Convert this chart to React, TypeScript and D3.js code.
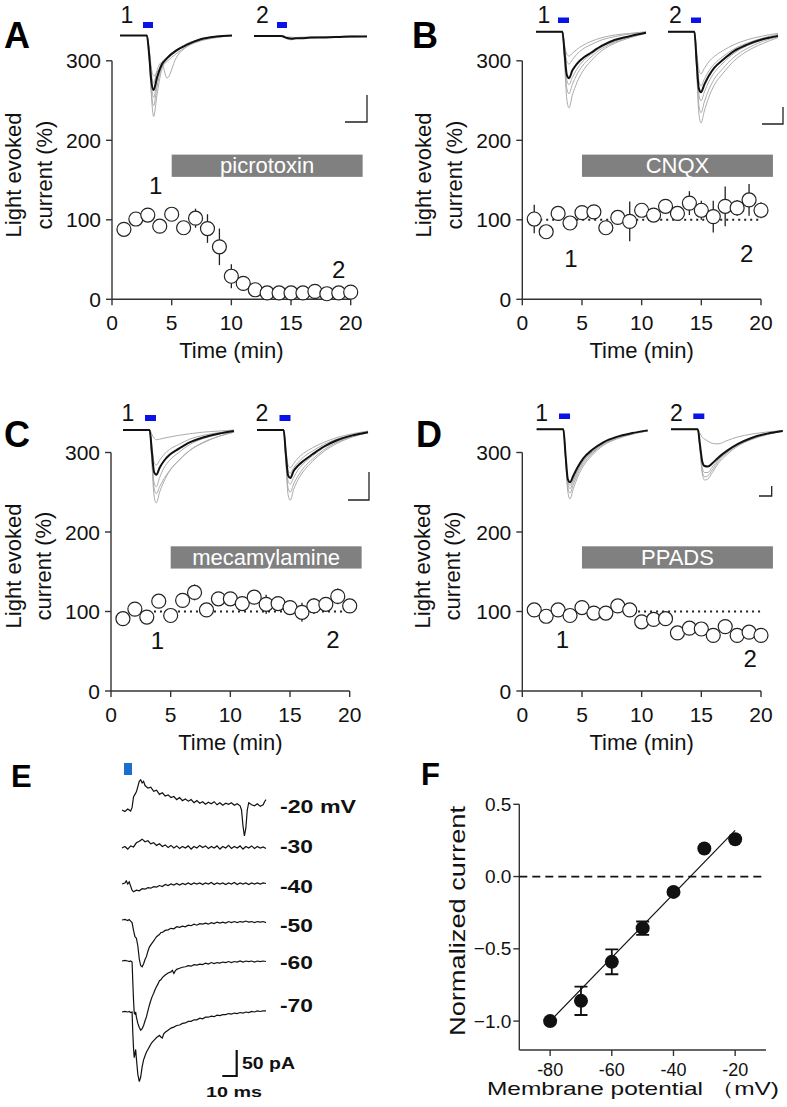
import React from "react";
import * as d3 from "d3";

const FONT = "'Liberation Sans', Arial, Helvetica, sans-serif";
const AXIS = "#333";

// ---------------- time-course data ----------------
const minutes = [1, 2, 3, 4, 5, 6, 7, 8, 9, 10, 11, 12, 13, 14, 15, 16, 17, 18, 19, 20];
const picroMean = [88, 101, 106, 92, 107, 90, 102, 89, 66, 29, 20, 12, 8, 8, 8, 8, 10, 7, 8, 9];
const picroErr = [3, 4, 5, 6, 3, 3, 12, 18, 23, 15, 5, 3, 2, 2, 2, 2, 2, 2, 2, 2];
const cnqxMean = [101, 85, 108, 96, 109, 110, 90, 103, 98, 112, 106, 117, 108, 121, 112, 104, 117, 115, 125, 112];
const cnqxErr = [18, 3, 5, 3, 4, 8, 3, 8, 25, 6, 4, 7, 5, 15, 12, 20, 25, 10, 20, 10];
const mecaMean = [91, 103, 93, 113, 95, 114, 124, 102, 116, 116, 110, 118, 109, 110, 105, 99, 107, 109, 119, 107];
const mecaErr = [3, 8, 3, 8, 3, 3, 10, 3, 3, 3, 5, 8, 12, 3, 3, 12, 10, 3, 10, 8];
const ppadsMean = [102, 94, 102, 95, 105, 98, 98, 107, 102, 87, 90, 91, 73, 79, 78, 70, 81, 70, 74, 70];
const ppadsErr = [2, 2, 2, 2, 2, 2, 2, 2, 2, 2, 2, 2, 2, 2, 2, 2, 2, 2, 2, 2];

const tcYTicks = [0, 100, 200, 300];
const tcXTicks = [0, 5, 10, 15, 20];
const drugNames = ["picrotoxin", "CNQX", "mecamylamine", "PPADS"];
const drugSpan = [5, 21];
const drugLevel = [154, 182];
// dotted 100% reference line [from, to] in minutes (null = none)
const refLines: (number[] | null)[] = [null, [1.5, 20], [3.6, 19.8], [9.7, 20]];
// positions of "1" / "2" annotations (min, %)
const markOne = [[3.66, 133], [4.08, 41], [3.9, 53], [3.37, 54]];
const markTwo = [[19.0, 27], [18.8, 47], [18.6, 54], [19.1, 30]];

// ---------------- inset traces (ms, pA) ----------------
const insetT = [0, 10, 20, 24, 26, 28, 30, 33, 37, 42, 50, 60, 72, 86, 100];
const a1Black = [0, 0, 0, 0, -35, -85, -101, -78, -55, -42, -28, -17, -7, -2, 0];
const a1Gray = [
  [0, 0, 0, 0, -35, -110, -150, -110, -65, -42, -28, -15, -7, -2, 0],
  [0, 0, 0, 0, -40, -105, -130, -95, -60, -44, -30, -17, -8, -3, 0],
  [0, 0, 0, 0, -30, -90, -115, -85, -52, -40, -27, -15, -7, -2, 0],
  [0, 0, 0, 0, -25, -70, -88, -65, -50, -79, -42, -20, -9, -3, 0],
  [0, 0, 0, 0, -25, -60, -75, -68, -58, -48, -34, -20, -10, -4, 0],
];
const a2Black = [0, 0, 0, 0, -1, -3, -4, -5, -4, -4, -3, -3, -2, -1, -1];
const a2Gray = [
  [1, -1, 1, 0, -2, -4, -6, -7, -5, -3, -4, -2, -1, -2, 0],
  [-1, 1, 0, 1, 0, -1, -2, -2, -3, -2, -2, -1, -1, 0, -1],
];
const b1Black = [0, 0, 0, 0, -40, -80, -86, -72, -60, -50, -39, -26, -15, -8, -2];
const b1Gray = [
  [0, 0, 0, 0, -60, -125, -141, -118, -95, -75, -54, -35, -21, -11, -3],
  [0, 0, 0, 0, -50, -105, -115, -98, -80, -64, -47, -31, -19, -9, -2],
  [0, 0, 0, 0, -45, -90, -98, -85, -70, -56, -42, -28, -17, -8, -2],
  [0, 0, 0, 0, -30, -55, -60, -52, -42, -33, -24, -15, -9, -4, -1],
  [0, 0, 0, 0, -25, -42, -45, -40, -33, -26, -18, -11, -6, -3, 0],
];
const b2Black = [0, 0, 0, 0, -55, -105, -112, -98, -82, -67, -52, -36, -24, -14, -8];
const b2Gray = [
  [0, 0, 0, 0, -70, -150, -169, -147, -122, -99, -77, -54, -36, -22, -11],
  [0, 0, 0, 0, -65, -135, -150, -130, -108, -88, -68, -47, -31, -18, -9],
  [0, 0, 0, 0, -55, -115, -128, -112, -93, -76, -58, -40, -26, -15, -7],
  [0, 0, 0, 0, -45, -90, -100, -88, -73, -60, -46, -32, -21, -12, -5],
  [0, 0, 0, 0, -35, -70, -78, -68, -56, -46, -35, -24, -15, -8, -3],
];
const c1Black = [0, 0, 0, 0, -40, -78, -83, -70, -57, -46, -35, -23, -14, -7, -2];
const c1Gray = [
  [0, 0, 0, 0, -60, -122, -135, -115, -95, -76, -57, -38, -23, -12, -4],
  [0, 0, 0, 0, -55, -108, -118, -105, -90, -75, -57, -38, -24, -12, -4],
  [0, 0, 0, 0, -50, -98, -105, -88, -70, -56, -42, -27, -16, -8, -2],
  [0, 0, 0, 0, -30, -60, -65, -56, -45, -36, -27, -17, -10, -5, -1],
  [0, 0, 0, 0, -8, -15, -18, -17, -15, -13, -10, -7, -4, -2, 0],
];
const c2Black = [0, 0, 0, 0, -45, -84, -89, -76, -66, -57, -45, -31, -19, -10, -4];
const c2Gray = [
  [0, 0, 0, 0, -60, -120, -130, -110, -92, -76, -58, -40, -25, -13, -5],
  [0, 0, 0, 0, -55, -108, -115, -100, -85, -70, -54, -37, -23, -12, -4],
  [0, 0, 0, 0, -48, -95, -100, -88, -74, -62, -48, -33, -21, -11, -4],
  [0, 0, 0, 0, -40, -75, -80, -70, -60, -50, -39, -27, -17, -9, -3],
  [0, 0, 0, 0, -35, -65, -70, -62, -52, -43, -33, -23, -14, -7, -2],
];
const d1Black = [0, 0, 0, 0, -48, -92, -98, -86, -70, -54, -38, -24, -14, -7, -2];
const d1Gray = [
  [0, 0, 0, 0, -55, -115, -129, -110, -88, -68, -48, -30, -18, -9, -3],
  [0, 0, 0, 0, -52, -108, -118, -102, -82, -64, -45, -28, -17, -9, -3],
  [0, 0, 0, 0, -50, -100, -110, -96, -78, -60, -43, -27, -16, -8, -3],
  [0, 0, 0, 0, -48, -95, -104, -92, -75, -58, -42, -26, -16, -8, -3],
];
const d2Black = [0, 0, 0, 0, -30, -60, -68, -69, -63, -53, -40, -27, -16, -8, -3];
const d2Gray = [
  [0, 0, 0, 0, -40, -82, -94, -92, -80, -64, -47, -31, -19, -10, -3],
  [0, 0, 0, 0, -38, -78, -88, -86, -75, -60, -44, -29, -18, -9, -3],
  [0, 0, 0, 0, -35, -72, -80, -80, -70, -57, -42, -28, -17, -9, -3],
  [0, 0, 0, 0, -8, -15, -18, -22, -26, -27, -21, -14, -9, -5, -2],
];

// ---------------- panel E traces (ms, pA) ----------------
const stepLabels = ["-20 mV", "-30", "-40", "-50", "-60", "-70"];
const trace20: number[][] = [[0,0],[2,-3],[4,2],[6,-2],[7,5],[8,25],[9,30],[10,35],[11,45],[12,55],[13,58],[14,52],[15,55],[16,47],[18,42],[20,44],[22,36],[24,38],[26,30],[28,33],[30,27],[32,29],[34,24],[36,26],[38,20],[40,24],[42,18],[44,21],[46,17],[48,20],[50,14],[52,18],[54,13],[56,16],[58,11],[60,15],[62,12],[64,16],[66,10],[68,14],[70,9],[72,13],[74,11],[76,14],[78,9],[80,12],[82,8],[83,0],[84,-30],[85,-50],[86,-35],[87,0],[88,14],[90,10],[92,8],[94,12],[96,7],[98,10],[99,16],[100,20]];
const trace30: number[][] = [[0,0],[2,3],[4,-2],[6,4],[8,2],[10,10],[12,13],[14,17],[16,12],[18,14],[20,8],[22,10],[24,5],[26,8],[28,3],[30,6],[32,1],[34,5],[36,0],[38,4],[40,-1],[42,3],[44,0],[46,4],[48,-2],[50,3],[52,0],[54,5],[56,1],[58,4],[60,-1],[62,3],[64,0],[66,4],[68,-2],[70,3],[72,0],[74,5],[76,-1],[78,3],[80,0],[82,4],[84,-2],[86,3],[88,0],[90,4],[92,-1],[94,3],[96,0],[98,2],[100,-1]];
const trace40: number[][] = [[0,0],[2,2],[3,6],[4,0],[5,4],[6,-4],[7,-12],[8,-15],[10,-12],[12,-13],[14,-9],[16,-10],[18,-7],[20,-8],[22,-5],[24,-6],[26,-3],[28,-5],[30,-1],[32,-3],[34,0],[36,-2],[38,1],[40,-2],[42,1],[44,-1],[46,2],[48,-1],[50,2],[52,0],[54,2],[56,-1],[58,2],[60,0],[62,3],[64,-1],[66,2],[68,0],[70,2],[72,-1],[74,2],[76,0],[78,3],[80,-1],[82,2],[84,0],[86,2],[88,-1],[90,2],[92,0],[94,2],[96,0],[98,2],[100,1]];
const trace50: number[][] = [[0,0],[2,1],[4,-1],[5,1],[6,-2],[7,-5],[8,-20],[9,-32],[10,-35],[11,-50],[12,-75],[13,-88],[14,-90],[15,-84],[16,-76],[17,-70],[18,-60],[19,-52],[20,-48],[21,-44],[22,-40],[23,-36],[24,-32],[25,-30],[26,-28],[27,-24],[28,-24],[30,-20],[32,-19],[34,-16],[36,-17],[38,-13],[40,-14],[42,-12],[44,-13],[46,-10],[48,-11],[50,-8],[52,-10],[54,-7],[56,-8],[58,-6],[60,-8],[62,-5],[64,-7],[66,-4],[68,-6],[70,-4],[72,-6],[74,-3],[76,-5],[78,-3],[80,-5],[82,-3],[84,-4],[86,-2],[88,-4],[90,-3],[92,-5],[94,-3],[96,-4],[98,-3],[100,-5]];
const trace60: number[][] = [[0,0],[2,1],[4,0],[5,-1],[6,0],[7,-2],[7.5,-40],[8,-75],[8.5,-100],[9,-102],[9.5,-98],[10,-108],[11,-120],[12,-128],[13,-133],[14,-130],[15,-124],[16,-115],[17,-107],[18,-96],[19,-85],[20,-76],[21,-68],[22,-62],[23,-55],[24,-49],[25,-44],[26,-38],[27,-36],[28,-32],[30,-27],[32,-23],[34,-21],[35,-18],[36,-24],[37,-19],[38,-16],[40,-14],[42,-12],[44,-11],[46,-9],[48,-10],[50,-7],[52,-8],[54,-6],[56,-7],[58,-4],[60,-6],[62,-3],[64,-5],[66,-3],[68,-4],[70,-2],[72,-3],[74,-1],[76,-3],[78,-1],[80,-2],[82,0],[84,-2],[86,0],[88,-1],[90,0],[92,-2],[94,0],[96,-1],[98,0],[100,-1]];
const trace70: number[][] = [[0,0],[2,1],[4,0],[5,1],[6,-1],[7,0],[7.5,-40],[8,-70],[8.5,-88],[9,-80],[9.5,-72],[10,-90],[11,-120],[12,-134],[13,-125],[14,-105],[15,-92],[16,-84],[17,-77],[18,-72],[19,-67],[20,-62],[21,-58],[22,-55],[23,-52],[24,-49],[25,-47],[26,-45],[27,-48],[28,-50],[29,-42],[30,-39],[32,-35],[34,-31],[36,-29],[38,-26],[40,-25],[42,-22],[44,-21],[46,-18],[48,-18],[50,-15],[52,-15],[54,-12],[56,-13],[58,-10],[60,-10],[62,-8],[64,-9],[66,-6],[68,-7],[70,-5],[72,-5],[74,-3],[76,-4],[78,-2],[80,-3],[82,-1],[84,-2],[86,0],[88,-1],[90,1],[92,0],[94,2],[96,1],[98,2],[100,2]];
const stepTraces = [trace20, trace30, trace40, trace50, trace60, trace70];

// ---------------- panel F (I-V) ----------------
const ivVoltage = [-80, -70, -60, -50, -40, -30, -20];
const ivCurrent = [-1.0, -0.86, -0.59, -0.357, -0.106, 0.194, 0.258];
const ivErr = [0, 0.098, 0.086, 0.046, 0, 0, 0];
const ivFitSlope = 0.022;
const ivFitIntercept = 0.76;
const ivFitRange = [-80, -20];
const ivXTicks = [-80, -60, -40, -20];
const ivYTicks = [0.5, 0.0, -0.5, -1.0];

// ---------------- layout ----------------
const panelLayout = [
  { letter: "A", lx: 4, ly: 48, axisX: 112, zeroY: 299.3, ylab1: 21, ylab2: 52, labCy: 175,
    insets: [
      { x0: 120, x1: 232, base: 35.5, num: "1", nx: 127, ny: 23, blue: [143, 22, 10, 6], black: a1Black, gray: a1Gray },
      { x0: 254, x1: 367, base: 36, num: "2", nx: 262.5, ny: 23, blue: [277, 22, 10, 6], black: a2Black, gray: a2Gray },
    ],
    sb: [367, 122, 22, 27] },
  { letter: "B", lx: 412, ly: 48, axisX: 522.3, zeroY: 299.3, ylab1: 431, ylab2: 462, labCy: 175,
    insets: [
      { x0: 536, x1: 646, base: 31.7, num: "1", nx: 544, ny: 23, blue: [558, 17.5, 11, 5.5], black: b1Black, gray: b1Gray },
      { x0: 668, x1: 778, base: 31.7, num: "2", nx: 675.5, ny: 23, blue: [691, 17.5, 10, 5.5], black: b2Black, gray: b2Gray },
    ],
    sb: [783, 124, 21, 17] },
  { letter: "C", lx: 4, ly: 447, axisX: 111, zeroY: 691, ylab1: 21, ylab2: 51, labCy: 566,
    insets: [
      { x0: 123, x1: 234, base: 430, num: "1", nx: 128, ny: 421, blue: [145, 415, 11, 6], black: c1Black, gray: c1Gray },
      { x0: 257, x1: 368, base: 430, num: "2", nx: 262, ny: 421, blue: [279.5, 415, 11, 6], black: c2Black, gray: c2Gray },
    ],
    sb: [369, 500, 21, 28] },
  { letter: "D", lx: 416, ly: 447, axisX: 522.3, zeroY: 691, ylab1: 430, ylab2: 460, labCy: 566,
    insets: [
      { x0: 536.7, x1: 647.7, base: 429.3, num: "1", nx: 541.7, ny: 421, blue: [559, 413.5, 11, 5.5], black: d1Black, gray: d1Gray },
      { x0: 671, x1: 782.7, base: 429.3, num: "2", nx: 676.3, ny: 421, blue: [693.3, 413.5, 11, 5.5], black: d2Black, gray: d2Gray },
    ],
    sb: [771.7, 496, 12.7, 10] },
];
const seriesMeans = [picroMean, cnqxMean, mecaMean, ppadsMean];
const seriesErrs = [picroErr, cnqxErr, mecaErr, ppadsErr];

function Inset({ ins }: { ins: any }) {
  const x = d3.scaleLinear().domain([0, 100]).range([ins.x0, ins.x1]);
  const y = d3.scaleLinear().domain([0, -100]).range([ins.base, ins.base + 54]);
  const line = d3
    .line<number>()
    .x((_, i) => x(insetT[i]))
    .y((v) => y(v))
    .curve(d3.curveMonotoneX);
  return (
    <g>
      {ins.gray.map((g: number[], i: number) => (
        <path key={i} d={line(g) || ""} fill="none" stroke="#ababab" strokeWidth={1} />
      ))}
      <path d={line(ins.black) || ""} fill="none" stroke="#111" strokeWidth={2} />
      <text x={ins.nx} y={ins.ny} textAnchor="middle" fontSize={23} fontFamily={FONT} fill="#111">
        {ins.num}
      </text>
      <rect x={ins.blue[0]} y={ins.blue[1]} width={ins.blue[2]} height={ins.blue[3]} fill="#0a12e8" />
    </g>
  );
}

function TimeCourse({ idx }: { idx: number }) {
  const L = panelLayout[idx];
  const mean = seriesMeans[idx];
  const err = seriesErrs[idx];
  const x = d3.scaleLinear().domain([0, 20]).range([L.axisX, L.axisX + 238.7]);
  const y = d3.scaleLinear().domain([0, 300]).range([L.zeroY, L.zeroY - 238.5]);
  const ref = refLines[idx];
  const [sx, sy, sw, sh] = L.sb;
  return (
    <g fontFamily={FONT}>
      <text x={L.lx} y={L.ly} fontSize={36} fontWeight="bold" fill="#000">
        {L.letter}
      </text>
      {L.insets.map((ins, i) => (
        <Inset key={i} ins={ins} />
      ))}
      <path d={`M${sx - sw},${sy}H${sx}V${sy - sh}`} fill="none" stroke="#222" strokeWidth={1.3} />
      {/* axes */}
      <line x1={x(0)} x2={x(0)} y1={y(0)} y2={y(300)} stroke={AXIS} strokeWidth={1.4} />
      <line x1={x(0)} x2={x(20)} y1={y(0)} y2={y(0)} stroke={AXIS} strokeWidth={1.4} />
      {tcYTicks.map((t) => (
        <g key={t}>
          <line x1={x(0) - 6} x2={x(0)} y1={y(t)} y2={y(t)} stroke={AXIS} strokeWidth={1.4} />
          <text x={x(0) - 11} y={y(t) + 7.5} textAnchor="end" fontSize={21} fill="#111">
            {t}
          </text>
        </g>
      ))}
      {tcXTicks.map((t) => (
        <g key={t}>
          <line x1={x(t)} x2={x(t)} y1={y(0)} y2={y(0) + 6} stroke={AXIS} strokeWidth={1.4} />
          <text x={x(t)} y={y(0) + 31} textAnchor="middle" fontSize={21} fill="#111">
            {t}
          </text>
        </g>
      ))}
      <text x={x(10)} y={y(0) + 59} textAnchor="middle" fontSize={22} fill="#111">
        Time (min)
      </text>
      <text transform={`translate(${L.ylab1},${L.labCy}) rotate(-90)`} textAnchor="middle" fontSize={22} fill="#111">
        Light evoked
      </text>
      <text transform={`translate(${L.ylab2},${L.labCy}) rotate(-90)`} textAnchor="middle" fontSize={22} fill="#111">
        current (%)
      </text>
      {/* drug bar */}
      <rect
        x={x(drugSpan[0])}
        y={y(drugLevel[1])}
        width={x(drugSpan[1]) - x(drugSpan[0])}
        height={y(drugLevel[0]) - y(drugLevel[1])}
        fill="#808080"
      />
      <text
        x={(x(drugSpan[0]) + x(drugSpan[1])) / 2}
        y={(y(drugLevel[0]) + y(drugLevel[1])) / 2 + 7.5}
        textAnchor="middle"
        fontSize={22}
        fill="#fff"
      >
        {drugNames[idx]}
      </text>
      {ref && (
        <line x1={x(ref[0])} x2={x(ref[1])} y1={y(100)} y2={y(100)} stroke="#222" strokeWidth={2} strokeDasharray="2 4" />
      )}
      {minutes.map((m, i) => (
        <line key={m} x1={x(m)} x2={x(m)} y1={y(mean[i] - err[i])} y2={y(mean[i] + err[i])} stroke="#222" strokeWidth={1.3} />
      ))}
      {minutes.map((m, i) => (
        <circle key={m} cx={x(m)} cy={y(mean[i])} r={7} fill="#fff" stroke="#222" strokeWidth={1.2} />
      ))}
      <text x={x(markOne[idx][0])} y={y(markOne[idx][1])} textAnchor="middle" fontSize={24} fill="#111">
        1
      </text>
      <text x={x(markTwo[idx][0])} y={y(markTwo[idx][1])} textAnchor="middle" fontSize={24} fill="#111">
        2
      </text>
    </g>
  );
}

const stepBase = [810, 848, 884, 920, 961, 1012];
const stepLabelY = [813, 853, 893, 932, 969, 1012];
const stepLabelLen = [76, 33, 33, 33, 33, 33];

function PanelE() {
  const x = d3.scaleLinear().domain([0, 100]).range([122, 266]);
  return (
    <g fontFamily={FONT}>
      <text x={11} y={787} fontSize={31} fontWeight="bold" fill="#000">
        E
      </text>
      <rect x={124} y={763} width={8} height={12} fill="#1a6fcc" />
      {stepTraces.map((tr, i) => {
        const y = d3.scaleLinear().domain([0, -100]).range([stepBase[i], stepBase[i] + 52]);
        const line = d3
          .line<number[]>()
          .x((d) => x(d[0]))
          .y((d) => y(d[1]));
        return (
          <g key={i}>
            <path d={line(tr) || ""} fill="none" stroke="#111" strokeWidth={1.2} />
            <text
              x={280}
              y={stepLabelY[i]}
              fontSize={19}
              fontWeight="bold"
              fill="#111"
              textLength={stepLabelLen[i]}
              lengthAdjust="spacingAndGlyphs"
            >
              {stepLabels[i]}
            </text>
          </g>
        );
      })}
      {(() => {
        const y = d3.scaleLinear().domain([0, -100]).range([1076, 1076 + 52]);
        const x0 = 236.7;
        return (
          <g>
            <path
              d={`M${x0 - (x(10) - x(0))},${y(0)}H${x0}V${y(50)}`}
              fill="none"
              stroke="#111"
              strokeWidth={2.2}
            />
            <text x={242} y={1069} fontSize={16} fontWeight="bold" fill="#111" textLength={53} lengthAdjust="spacingAndGlyphs">
              50 pA
            </text>
            <text x={206} y={1097} fontSize={15} fontWeight="bold" fill="#111" textLength={56} lengthAdjust="spacingAndGlyphs">
              10 ms
            </text>
          </g>
        );
      })()}
    </g>
  );
}

function PanelF() {
  const x = d3.scaleLinear().domain([-90, -10]).range([519.3, 766]);
  const y = d3.scaleLinear().domain([-1.2, 0.5]).range([1050, 804.3]);
  const fit = (v: number) => ivFitIntercept + ivFitSlope * v;
  const fmt = d3.format(".1f");
  return (
    <g fontFamily={FONT}>
      <text x={421} y={785} fontSize={31} fontWeight="bold" fill="#000">
        F
      </text>
      <line x1={x(-90)} x2={x(-90)} y1={y(0.5)} y2={y(-1.2)} stroke={AXIS} strokeWidth={1.4} />
      <line x1={x(-90)} x2={x(-10)} y1={y(-1.2)} y2={y(-1.2)} stroke={AXIS} strokeWidth={1.4} />
      {ivYTicks.map((t) => (
        <g key={t}>
          <line x1={x(-90) - 6} x2={x(-90)} y1={y(t)} y2={y(t)} stroke={AXIS} strokeWidth={1.4} />
          <text x={x(-90) - 8} y={y(t) + 6.5} textAnchor="end" fontSize={19} fill="#111">
            {fmt(t)}
          </text>
        </g>
      ))}
      {ivXTicks.map((t) => (
        <g key={t}>
          <line x1={x(t)} x2={x(t)} y1={y(-1.2)} y2={y(-1.2) + 6} stroke={AXIS} strokeWidth={1.4} />
          <text x={x(t)} y={y(-1.2) + 26} textAnchor="middle" fontSize={18} fill="#111">
            {t}
          </text>
        </g>
      ))}
      <line x1={x(-90)} x2={x(-10)} y1={y(0)} y2={y(0)} stroke="#111" strokeWidth={1.8} strokeDasharray="8 5" />
      <line
        x1={x(ivFitRange[0])}
        y1={y(fit(ivFitRange[0]))}
        x2={x(ivFitRange[1])}
        y2={y(fit(ivFitRange[1]))}
        stroke="#111"
        strokeWidth={1.2}
      />
      {ivVoltage.map((v, i) =>
        ivErr[i] > 0 ? (
          <path
            key={v}
            d={`M${x(v) - 6.5},${y(ivCurrent[i] + ivErr[i])}H${x(v) + 6.5}M${x(v)},${y(ivCurrent[i] + ivErr[i])}V${y(
              ivCurrent[i] - ivErr[i]
            )}M${x(v) - 6.5},${y(ivCurrent[i] - ivErr[i])}H${x(v) + 6.5}`}
            fill="none"
            stroke="#111"
            strokeWidth={1.8}
          />
        ) : null
      )}
      {ivVoltage.map((v, i) => (
        <circle key={v} cx={x(v)} cy={y(ivCurrent[i])} r={7} fill="#111" />
      ))}
      <text
        transform={`translate(465,921) rotate(-90)`}
        textAnchor="middle"
        fontSize={22}
        fill="#111"
        textLength={230}
        lengthAdjust="spacingAndGlyphs"
      >
        Normalized current
      </text>
      <text x={487} y={1095} fontSize={19} fill="#111" textLength={292} lengthAdjust="spacingAndGlyphs">
        Membrane potential （mV)
      </text>
    </g>
  );
}

export default function App() {
  return (
    <svg
      width={787}
      height={1107}
      viewBox="0 0 787 1107"
      style={{ position: "absolute", left: 0, top: 0, background: "#fff" }}
    >
      <rect width={787} height={1107} fill="#fff" />
      {[0, 1, 2, 3].map((i) => (
        <TimeCourse key={i} idx={i} />
      ))}
      <PanelE />
      <PanelF />
    </svg>
  );
}
